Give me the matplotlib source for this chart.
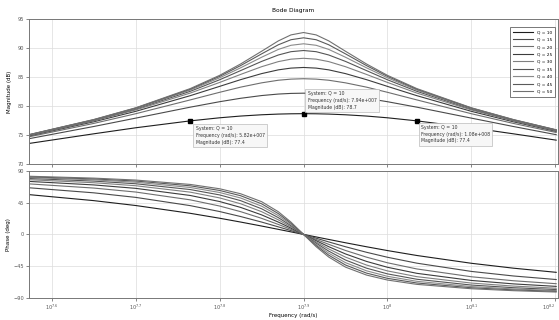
import numpy as np
import matplotlib
matplotlib.use("Agg")
import matplotlib.pyplot as plt

# ---------------- data ----------------
q_values = [10, 15, 20, 25, 30, 35, 40, 45, 50]
log_freq = [7.573, 7.65, 7.70, 7.765, 7.80, 7.825, 7.85, 7.87, 7.885, 7.90,
            7.915, 7.93, 7.95, 7.975, 8.00, 8.035, 8.10, 8.15, 8.201]

mag_q10 = [73.54, 75.20, 76.24, 77.43, 77.96, 78.26, 78.48, 78.60, 78.65, 78.67, 78.65, 78.60, 78.48, 78.26, 77.96, 77.43, 76.24, 75.20, 74.11]
mag_q15 = [74.36, 76.46, 77.90, 79.79, 80.73, 81.32, 81.79, 82.05, 82.16, 82.20, 82.16, 82.05, 81.79, 81.32, 80.73, 79.79, 77.90, 76.46, 75.05]
mag_q20 = [74.68, 76.99, 78.66, 81.04, 82.35, 83.24, 83.98, 84.43, 84.62, 84.69, 84.62, 84.43, 83.98, 83.24, 82.35, 81.04, 78.66, 76.99, 75.43]
mag_q25 = [74.84, 77.27, 79.07, 81.77, 83.37, 84.53, 85.57, 86.22, 86.52, 86.63, 86.52, 86.22, 85.57, 84.53, 83.37, 81.77, 79.07, 77.27, 75.62]
mag_q30 = [74.93, 77.42, 79.31, 82.22, 84.05, 85.43, 86.76, 87.64, 88.06, 88.21, 88.06, 87.64, 86.76, 85.43, 84.05, 82.22, 79.31, 77.42, 75.72]
mag_q35 = [74.98, 77.52, 79.46, 82.52, 84.51, 86.09, 87.67, 88.78, 89.35, 89.55, 89.35, 88.78, 87.67, 86.09, 84.51, 82.52, 79.46, 77.52, 75.79]
mag_q40 = [75.02, 77.58, 79.56, 82.73, 84.85, 86.57, 88.39, 89.74, 90.45, 90.71, 90.45, 89.74, 88.39, 86.57, 84.85, 82.73, 79.56, 77.58, 75.83]
mag_q45 = [75.05, 77.63, 79.64, 82.88, 85.10, 86.95, 88.97, 90.54, 91.41, 91.74, 91.41, 90.54, 88.97, 86.95, 85.10, 82.88, 79.64, 77.63, 75.87]
mag_q50 = [75.06, 77.66, 79.68, 82.99, 85.27, 87.23, 89.42, 91.21, 92.24, 92.65, 92.24, 91.21, 89.42, 87.23, 85.27, 82.99, 79.68, 77.66, 75.89]

ph_q10 = [56.35, 47.86, 40.93, 29.88, 22.91, 17.51, 11.86, 7.15, 3.59, 0, -3.59, -7.15, -11.86, -17.51, -22.91, -29.88, -40.93, -47.86, -53.74]
ph_q15 = [66.07, 58.91, 52.46, 40.77, 32.39, 25.33, 17.49, 10.66, 5.38, 0, -5.38, -10.66, -17.49, -25.33, -32.39, -40.77, -52.46, -58.91, -63.95]
ph_q20 = [71.58, 65.66, 60.03, 48.96, 40.21, 32.24, 22.78, 14.08, 7.15, 0, -7.15, -14.08, -22.78, -32.24, -40.21, -48.96, -60.03, -65.66, -69.86]
ph_q25 = [75.09, 70.11, 65.25, 55.15, 46.58, 38.26, 27.70, 17.42, 8.91, 0, -8.91, -17.42, -27.70, -38.26, -46.58, -55.15, -65.25, -70.11, -73.65]
ph_q30 = [77.49, 73.22, 68.97, 59.88, 51.74, 43.42, 32.21, 20.62, 10.66, 0, -10.66, -20.62, -32.21, -43.42, -51.74, -59.88, -68.97, -73.22, -76.26]
ph_q35 = [79.23, 75.51, 71.77, 63.56, 55.95, 47.83, 36.32, 23.71, 12.38, 0, -12.38, -23.71, -36.32, -47.83, -55.95, -63.56, -71.77, -75.51, -78.17]
ph_q40 = [80.55, 77.26, 73.92, 66.48, 59.40, 51.60, 40.03, 26.65, 14.08, 0, -14.08, -26.65, -40.03, -51.60, -59.40, -66.48, -73.92, -77.26, -79.61]
ph_q45 = [81.58, 78.63, 75.63, 68.85, 62.27, 54.83, 43.38, 29.45, 15.76, 0, -15.76, -29.45, -43.38, -54.83, -62.27, -68.85, -75.63, -78.63, -80.74]
ph_q50 = [82.41, 79.74, 77.01, 70.80, 64.68, 57.61, 46.39, 32.10, 17.41, 0, -17.41, -32.10, -46.39, -57.61, -64.68, -70.80, -77.01, -79.74, -81.66]

mags = [mag_q10, mag_q15, mag_q20, mag_q25, mag_q30, mag_q35, mag_q40, mag_q45, mag_q50]
phases = [ph_q10, ph_q15, ph_q20, ph_q25, ph_q30, ph_q35, ph_q40, ph_q45, ph_q50]

x_tick_exps = ["7.6", "7.7", "7.8", "7.9", "8", "8.1", "8.2"]
mag_ticks = [70, 75, 80, 85, 90, 95]
phase_ticks = [-90, -45, 0, 45, 90]

marker_idx = [3, 9, 15]
marker_texts = [
    "System: Q = 10\nFrequency (rad/s): 5.82e+007\nMagnitude (dB): 77.4",
    "System: Q = 10\nFrequency (rad/s): 7.94e+007\nMagnitude (dB): 78.7",
    "System: Q = 10\nFrequency (rad/s): 1.08e+008\nMagnitude (dB): 77.4",
]

# ---------------- drawing ----------------
freq = 10 ** np.array(log_freq)
colors = ['#1e1e1e', '#4a4a4a', '#6e6e6e', '#3c3c3c', '#808080',
          '#555555', '#8a8a8a', '#5a5a5a', '#707070']

fig = plt.figure(figsize=(5.59, 3.20), dpi=100)
ax1 = fig.add_axes([0.052, 0.4875, 0.946, 0.4535])
ax2 = fig.add_axes([0.052, 0.069, 0.946, 0.397])

fs = 3.6
for q, m, p, c in zip(q_values, mags, phases, colors):
    ax1.plot(freq, m, color=c, lw=0.8, label=f"Q = {q}")
    ax2.plot(freq, p, color=c, lw=0.8)

xticks = [10 ** float(e) for e in x_tick_exps]
for ax in (ax1, ax2):
    ax.set_xscale('log')
    ax.set_xlim(10 ** 7.573, 10 ** 8.203)
    ax.set_xticks(xticks)
    ax.minorticks_off()
    ax.grid(True, color='#dcdcdc', lw=0.5, linestyle='-')
    ax.set_axisbelow(True)
    ax.tick_params(length=2, width=0.5, labelsize=fs, colors='#555555', pad=1.5)
    for s in ax.spines.values():
        s.set_color('#777777')
        s.set_linewidth(0.7)

ax1.set_xticklabels([])
labels = ax2.set_xticklabels([r"$10^{%s}$" % e for e in x_tick_exps])
labels[-1].set_horizontalalignment('right')

ax1.set_ylim(70, 95)
ax1.set_yticks(mag_ticks)
ax2.set_ylim(-90, 90)
ax2.set_yticks(phase_ticks)

ax1.set_ylabel("Magnitude (dB)", fontsize=fs + 0.4, labelpad=4)
ax2.set_ylabel("Phase (deg)", fontsize=fs + 0.4, labelpad=2)
ax2.set_xlabel("Frequency (rad/s)", fontsize=fs + 0.4, labelpad=1)
ax1.set_title("Bode Diagram", fontsize=fs + 0.6, pad=5)

# data tips on the Q = 10 curve
offsets = [((4, -4), 'top'), ((3, 3), 'bottom'), ((3, -3), 'top')]
for idx, txt, (off, va) in zip(marker_idx, marker_texts, offsets):
    ax1.plot(freq[idx], mag_q10[idx], 's', color='black', ms=2.6, zorder=5)
    ax1.annotate(txt, xy=(freq[idx], mag_q10[idx]), xytext=off,
                 textcoords='offset points', ha='left', va=va,
                 fontsize=3.3, linespacing=1.4, color='#333333',
                 bbox=dict(boxstyle='square,pad=0.5', fc='#f7f7f7',
                           ec='#bbbbbb', lw=0.5), zorder=6)

leg = ax1.legend(loc='upper right', fontsize=3.2, frameon=True, fancybox=False,
                 handlelength=4.5, labelspacing=0.75, borderpad=0.7,
                 bbox_to_anchor=(0.999, 0.96), markerfirst=True)
leg.get_frame().set_edgecolor('#555555')
leg.get_frame().set_linewidth(0.7)

fig.savefig("out.png", dpi=100)
